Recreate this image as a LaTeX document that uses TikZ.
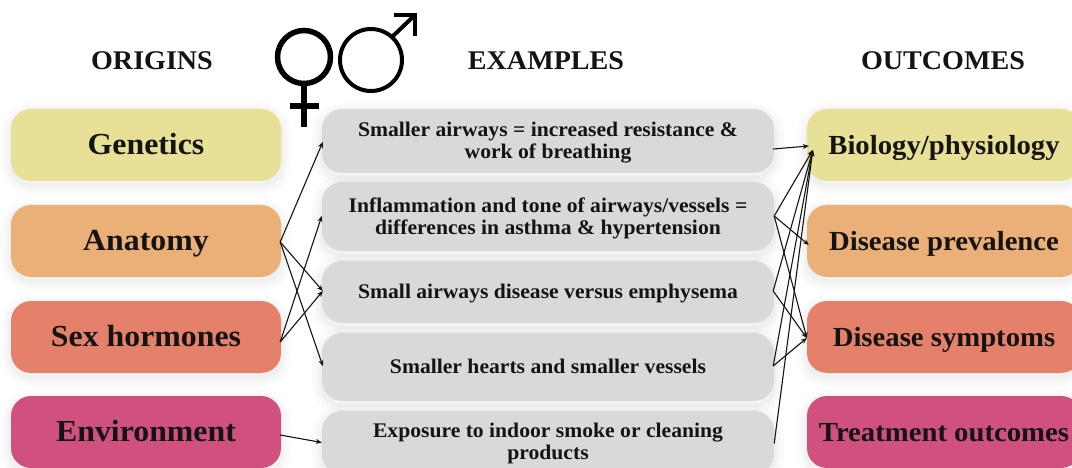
\documentclass[tikz,border=0pt]{standalone}
\usepackage{fontspec}
\setmainfont[FakeStretch=1.04]{Liberation Serif}
\usetikzlibrary{arrows.meta,calc}
\definecolor{cyel}{HTML}{E8E097}
\definecolor{cora}{HTML}{EBB077}
\definecolor{cred}{HTML}{E5816B}
\definecolor{cpin}{HTML}{D0517F}
\definecolor{cgry}{HTML}{D9D9D9}
\definecolor{ctxt}{HTML}{141414}
\tikzset{
  softshadow/.style={
    preaction={draw=black,draw opacity=.015,line width=20pt,transform canvas={yshift=-4pt}},
    preaction={draw=black,draw opacity=.018,line width=12pt,transform canvas={yshift=-4pt}},
    preaction={draw=black,draw opacity=.025,line width=5pt,transform canvas={yshift=-4pt}}},
  box/.style={softshadow,rounded corners=20pt,inner sep=0pt,align=center,text=ctxt,font=\bfseries},
  sidebox/.style={box,minimum width=270pt,minimum height=72pt,text height=19pt,text depth=0pt,font=\bfseries\fontsize{30.6}{32}\selectfont},
  outbox/.style={box,minimum width=274pt,minimum height=72pt,text height=18.5pt,text depth=0pt,font=\bfseries\fontsize{27.6}{30}\selectfont},
  midbox/.style={box,fill=cgry,minimum width=452pt,text depth=1.5pt,font=\bfseries\fontsize{20.8}{22}\selectfont},
  headlabel/.style={text=ctxt,font=\bfseries\fontsize{27}{30}\selectfont},
  link/.style={draw=ctxt,line width=1.1pt,-{Stealth[length=6pt,width=5pt]}},
  sym/.style={draw=black,fill=none}
}
\begin{document}
\begin{tikzpicture}[x=1pt,y=-1pt]
\useasboundingbox (0,0) rectangle (1072,468);
\fill[white] (0,0) rectangle (1072,468);

\node[headlabel] (h1) at (152,61) {ORIGINS};
\node[headlabel] (h2) at (546,61) {EXAMPLES};
\node[headlabel] (h3) at (943,61) {OUTCOMES};

% female symbol
\draw[sym,line width=5.5pt] (304,57) circle (26.5);
\draw[sym,line width=5.5pt] (304,83) -- (304,127);
\draw[sym,line width=5.5pt] (290,106) -- (319,106);
% male symbol
\draw[sym,line width=4pt] (371,60) circle (31);
\draw[sym,line width=4pt] (393,36) -- (415,15);
\draw[sym,line width=4pt,line join=miter] (394,15) -- (415,15) -- (415,36);

\node[sidebox,fill=cyel] (l1) at (146,145) {Genetics};
\node[sidebox,fill=cora] (l2) at (146,241) {Anatomy};
\node[sidebox,fill=cred] (l3) at (146,337) {Sex hormones};
\node[sidebox,fill=cpin] (l4) at (146,432) {Environment};

\node[midbox,minimum height=64pt] (m1) at (548,141) {Smaller airways = increased resistance \&\\work of breathing};
\node[midbox,minimum height=69pt] (m2) at (548,216.5) {Inflammation and tone of airways/vessels =\\differences in asthma \& hypertension};
\node[midbox,minimum height=62pt] (m3) at (548,292) {Small airways disease versus emphysema};
\node[midbox,minimum height=68pt] (m4) at (548,367) {Smaller hearts and smaller vessels};
\node[midbox,minimum height=63pt] (m5) at (548,442.5) {Exposure to indoor smoke or cleaning\\products};

\node[outbox,fill=cyel] (r1) at (944,145) {Biology/physiology};
\node[outbox,fill=cora] (r2) at (944,241) {Disease prevalence};
\node[outbox,fill=cred] (r3) at (944,337) {Disease symptoms};
\node[outbox,fill=cpin] (r4) at (944,432) {Treatment outcomes};

% free ends just off the box edges
\coordinate (a2) at ($(l2.east)+(-1,1)$);
\coordinate (a3) at ($(l3.east)+(-1,5)$);
\coordinate (a4) at ($(l4.east)+(-1,3)$);
\coordinate (b1) at ($(m1.west)+(1,1)$);
\coordinate (b2) at ($(m2.west)+(0,-0.5)$);
\coordinate (b3) at ($(m3.west)+(1,-1)$);
\coordinate (b4) at ($(m4.west)+(1,-1)$);
\coordinate (b5) at ($(m5.west)+(0,0)$);
\coordinate (c1) at ($(m1.east)+(-1,8)$);
\coordinate (c2) at ($(m2.east)+(0,-0.5)$);
\coordinate (c3) at ($(m3.east)+(-1,-1)$);
\coordinate (c4) at ($(m4.east)+(-1,-1)$);
\coordinate (c5) at ($(m5.east)+(0,1)$);
\coordinate (d1) at ($(r1.west)+(2,1)$);
\coordinate (d1b) at ($(r1.west)+(6,5)$);
\coordinate (d2) at ($(r2.west)+(2,4)$);
\coordinate (d3) at ($(r3.west)+(0,1)$);

\draw[link] (a2) -- (b1);
\draw[link] (a2) -- (b3);
\draw[link] (a2) -- (b4);
\draw[link] (a3) -- (b2);
\draw[link] (a3) -- (b3);
\draw[link] (a4) -- (b5);

\draw[link] (c1) -- (d1);
\draw[link] (c2) -- (d1b);
\draw[link] (c2) -- (d2);
\draw[link] (c2) -- (d3);
\draw[link] (c3) -- (d1b);
\draw[link] (c3) -- (d3);
\draw[link] (c4) -- (d1b);
\draw[link] (c4) -- (d3);
\draw[link] (c5) -- (d1b);
\end{tikzpicture}
\end{document}
